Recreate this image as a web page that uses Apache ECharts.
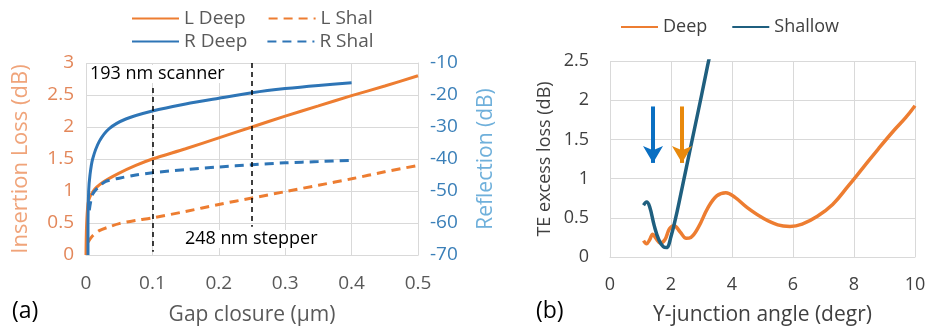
<!DOCTYPE html>
<html>
<head>
<meta charset="utf-8">
<script src="https://cdn.jsdelivr.net/npm/echarts@6/dist/echarts.min.js"></script>
<style>
  html, body { margin: 0; padding: 0; background: #fff; }
  #chart { width: 931px; height: 331px; }
</style>
</head>
<body>
<div id="chart"></div>
<script>
// panel (a): gap closure (um) vs insertion loss (left) / reflection (right)
const lDeep = [[0, 0], [0.003, 0.8], [0.011, 1.0], [0.026, 1.14], [0.05, 1.28], [0.075, 1.4], [0.1, 1.5],
  [0.15, 1.66], [0.2, 1.83], [0.25, 2.0], [0.3, 2.17], [0.35, 2.33], [0.4, 2.49], [0.45, 2.64], [0.5, 2.8]]
const lShal = [[0.003, 0.2], [0.01, 0.3], [0.02, 0.38], [0.035, 0.44], [0.05, 0.49], [0.075, 0.54], [0.1, 0.58],
  [0.15, 0.68], [0.2, 0.79], [0.25, 0.89], [0.3, 0.99], [0.35, 1.09], [0.4, 1.19], [0.45, 1.3], [0.5, 1.4]]
const rDeep = [[0.003, -70], [0.003, -60], [0.004, -50], [0.006, -45], [0.01, -40], [0.02, -34.5], [0.035, -30.5],
  [0.06, -27.5], [0.1, -25], [0.15, -22.8], [0.2, -21], [0.25, -19.3], [0.3, -18], [0.35, -17], [0.4, -16.2]]
const rShal = [[0.005, -56], [0.01, -51], [0.02, -48.5], [0.03, -47], [0.05, -46], [0.075, -45], [0.1, -44.3],
  [0.15, -43.3], [0.2, -42.5], [0.25, -41.8], [0.3, -41.2], [0.35, -40.8], [0.4, -40.4]]

// panel (b): Y-junction angle (deg) vs TE excess loss (dB)
const deepB = [[1.1, 0.21], [1.2, 0.17], [1.3, 0.22], [1.4, 0.29], [1.5, 0.24], [1.65, 0.18], [1.8, 0.22],
  [1.95, 0.36], [2.1, 0.4], [2.3, 0.32], [2.5, 0.24], [2.65, 0.25], [2.9, 0.38], [3.2, 0.62], [3.5, 0.78],
  [3.8, 0.82], [4.1, 0.76], [4.5, 0.63], [5.0, 0.5], [5.5, 0.41], [5.9, 0.39], [6.3, 0.42], [6.8, 0.52],
  [7.3, 0.67], [7.8, 0.9], [8.3, 1.14], [8.8, 1.38], [9.3, 1.61], [9.7, 1.78], [10, 1.93]]
const shallowB = [[1.1, 0.66], [1.2, 0.7], [1.3, 0.64], [1.45, 0.4], [1.6, 0.22], [1.75, 0.13], [1.85, 0.12],
  [2.0, 0.26], [2.2, 0.58], [2.4, 0.95], [2.6, 1.32], [2.8, 1.69], [3.0, 2.06], [3.2, 2.44], [3.4, 2.8]]

// lithography markers and arrows
const scannerLine = [0.1, 2.61, 0.05]
const stepperLine = [0.25, 3.0, 0.44]
const blueArrow = [1.41, 1.92, 1.2]
const orangeArrow = [2.36, 1.92, 1.2]

const FONT = 'Open Sans'
const ORANGE = '#ED7D31'
const BLUE = '#2E75B6'
const TEAL = '#1F5F7F'
const GRID = '#D9D9D9'
const TXT = '#595959'

const chart = echarts.init(document.getElementById('chart'))

const axisBase = {
  axisTick: { show: false },
  axisLine: { show: false },
  splitLine: { lineStyle: { color: GRID, width: 1 } },
  axisLabel: { fontFamily: FONT, fontSize: 19, color: TXT },
  nameTextStyle: { fontFamily: FONT, fontSize: 21, color: TXT }
}

const vline = (m) => [{ coord: [m[0], m[1]] }, { coord: [m[0], m[2]] }]
const arrow = (m, color) => ({
  data: [[{ coord: [m[0], m[1]] }, { coord: [m[0], m[2]] }]],
  symbol: ['none', 'arrow'],
  symbolSize: [15, 17],
  silent: true,
  label: { show: false },
  lineStyle: { color: color, width: 4, type: 'solid' }
})

const legendBase = {
  itemHeight: 10,
  itemStyle: { opacity: 0 },
  textStyle: { fontFamily: FONT, fontSize: 19, color: TXT }
}

const option = {
  animation: false,
  backgroundColor: '#fff',
  textStyle: { fontFamily: FONT },
  grid: [
    { left: 86, right: 513, top: 63, bottom: 76 },
    { left: 610, right: 16, top: 61, bottom: 74 }
  ],
  legend: [
    { ...legendBase, left: 126, top: 4, itemWidth: 47, itemGap: 22, data: ['L Deep', 'L Shal'] },
    { ...legendBase, left: 126, top: 27, itemWidth: 47, itemGap: 19, data: ['R Deep', 'R Shal'] },
    {
      ...legendBase, left: 615, top: 13, itemWidth: 37, itemGap: 24, data: ['Deep', 'Shallow'],
      textStyle: { fontFamily: FONT, fontSize: 18, color: '#404040' }
    }
  ],
  xAxis: [
    {
      ...axisBase, gridIndex: 0, type: 'value', min: 0, max: 0.5, interval: 0.1,
      axisLine: { show: true, lineStyle: { color: GRID } },
      axisLabel: { ...axisBase.axisLabel, margin: 19 },
      name: 'Gap closure (\u03bcm)', nameLocation: 'middle', nameGap: 50
    },
    {
      ...axisBase, gridIndex: 1, type: 'value', min: 0, max: 10, interval: 2,
      axisLine: { show: true, lineStyle: { color: GRID } },
      axisLabel: { ...axisBase.axisLabel, fontSize: 18, color: '#404040', margin: 19 },
      name: 'Y-junction angle (degr)', nameLocation: 'middle', nameGap: 48,
      nameTextStyle: { ...axisBase.nameTextStyle, color: '#404040' }
    }
  ],
  yAxis: [
    {
      ...axisBase, gridIndex: 0, type: 'value', min: 0, max: 3, interval: 0.5,
      axisLabel: { ...axisBase.axisLabel, color: '#E3875A', margin: 12 },
      name: 'Insertion Loss (dB)', nameLocation: 'middle', nameGap: 54, nameRotate: 90,
      nameTextStyle: { ...axisBase.nameTextStyle, fontSize: 22, color: '#F0A47A' }
    },
    {
      ...axisBase, gridIndex: 0, type: 'value', min: -70, max: -10, interval: 10, position: 'right',
      axisLine: { show: true, lineStyle: { color: GRID } },
      splitLine: { show: false },
      axisLabel: { ...axisBase.axisLabel, color: '#3A7FB8', margin: 12 },
      name: 'Reflection (dB)', nameLocation: 'middle', nameGap: 58, nameRotate: 90,
      nameTextStyle: { ...axisBase.nameTextStyle, color: '#6FB0DB' }
    },
    {
      ...axisBase, gridIndex: 1, type: 'value', min: 0, max: 2.5, interval: 0.5,
      axisLabel: { ...axisBase.axisLabel, fontSize: 18, color: '#404040', margin: 21 },
      name: 'TE excess loss (dB)', nameLocation: 'middle', nameGap: 56, nameRotate: 90,
      nameTextStyle: { ...axisBase.nameTextStyle, fontSize: 18, color: '#404040' }
    }
  ],
  series: [
    {
      name: 'L Deep', type: 'line', xAxisIndex: 0, yAxisIndex: 0, data: lDeep,
      showSymbol: false, symbol: 'none', smooth: 0.3,
      lineStyle: { color: ORANGE, width: 3 }, itemStyle: { color: ORANGE },
      markLine: {
        silent: true, symbol: 'none', label: { show: false },
        lineStyle: { color: '#000', width: 1.5, type: [5, 4] },
        data: [vline(scannerLine), vline(stepperLine)]
      }
    },
    {
      name: 'L Shal', type: 'line', xAxisIndex: 0, yAxisIndex: 0, data: lShal,
      showSymbol: false, symbol: 'none', smooth: 0.3,
      lineStyle: { color: ORANGE, width: 3, type: [9, 6] }, itemStyle: { color: ORANGE }
    },
    {
      name: 'R Deep', type: 'line', xAxisIndex: 0, yAxisIndex: 1, data: rDeep,
      showSymbol: false, symbol: 'none', smooth: 0.3,
      lineStyle: { color: BLUE, width: 3 }, itemStyle: { color: BLUE }
    },
    {
      name: 'R Shal', type: 'line', xAxisIndex: 0, yAxisIndex: 1, data: rShal,
      showSymbol: false, symbol: 'none', smooth: 0.3,
      lineStyle: { color: BLUE, width: 3, type: [9, 6] }, itemStyle: { color: BLUE }
    },
    {
      name: 'Deep', type: 'line', xAxisIndex: 1, yAxisIndex: 2, data: deepB,
      showSymbol: false, symbol: 'none', smooth: 0.4,
      lineStyle: { color: ORANGE, width: 3.5 }, itemStyle: { color: ORANGE },
      markLine: arrow(orangeArrow, '#E8890C')
    },
    {
      name: 'Shallow', type: 'line', xAxisIndex: 1, yAxisIndex: 2, data: shallowB,
      showSymbol: false, symbol: 'none', smooth: 0.4,
      lineStyle: { color: TEAL, width: 3.5 }, itemStyle: { color: TEAL },
      markLine: arrow(blueArrow, '#0A6FC2')
    }
  ],
  graphic: [
    {
      type: 'text', left: 88, top: 65, z: 5,
      style: { text: '193 nm scanner', font: '18px "Open Sans"', fill: '#000', backgroundColor: '#fff', padding: [0, 2] }
    },
    {
      type: 'text', left: 183, top: 230, z: 5,
      style: { text: '248 nm stepper', font: '18px "Open Sans"', fill: '#000', backgroundColor: '#fff', padding: [0, 2] }
    },
    { type: 'text', left: 12, top: 300, style: { text: '(a)', font: '23px "Open Sans"', fill: '#000' } },
    { type: 'text', left: 536, top: 300, style: { text: '(b)', font: '23px "Open Sans"', fill: '#000' } }
  ]
}

chart.setOption(option)
</script>
</body>
</html>
